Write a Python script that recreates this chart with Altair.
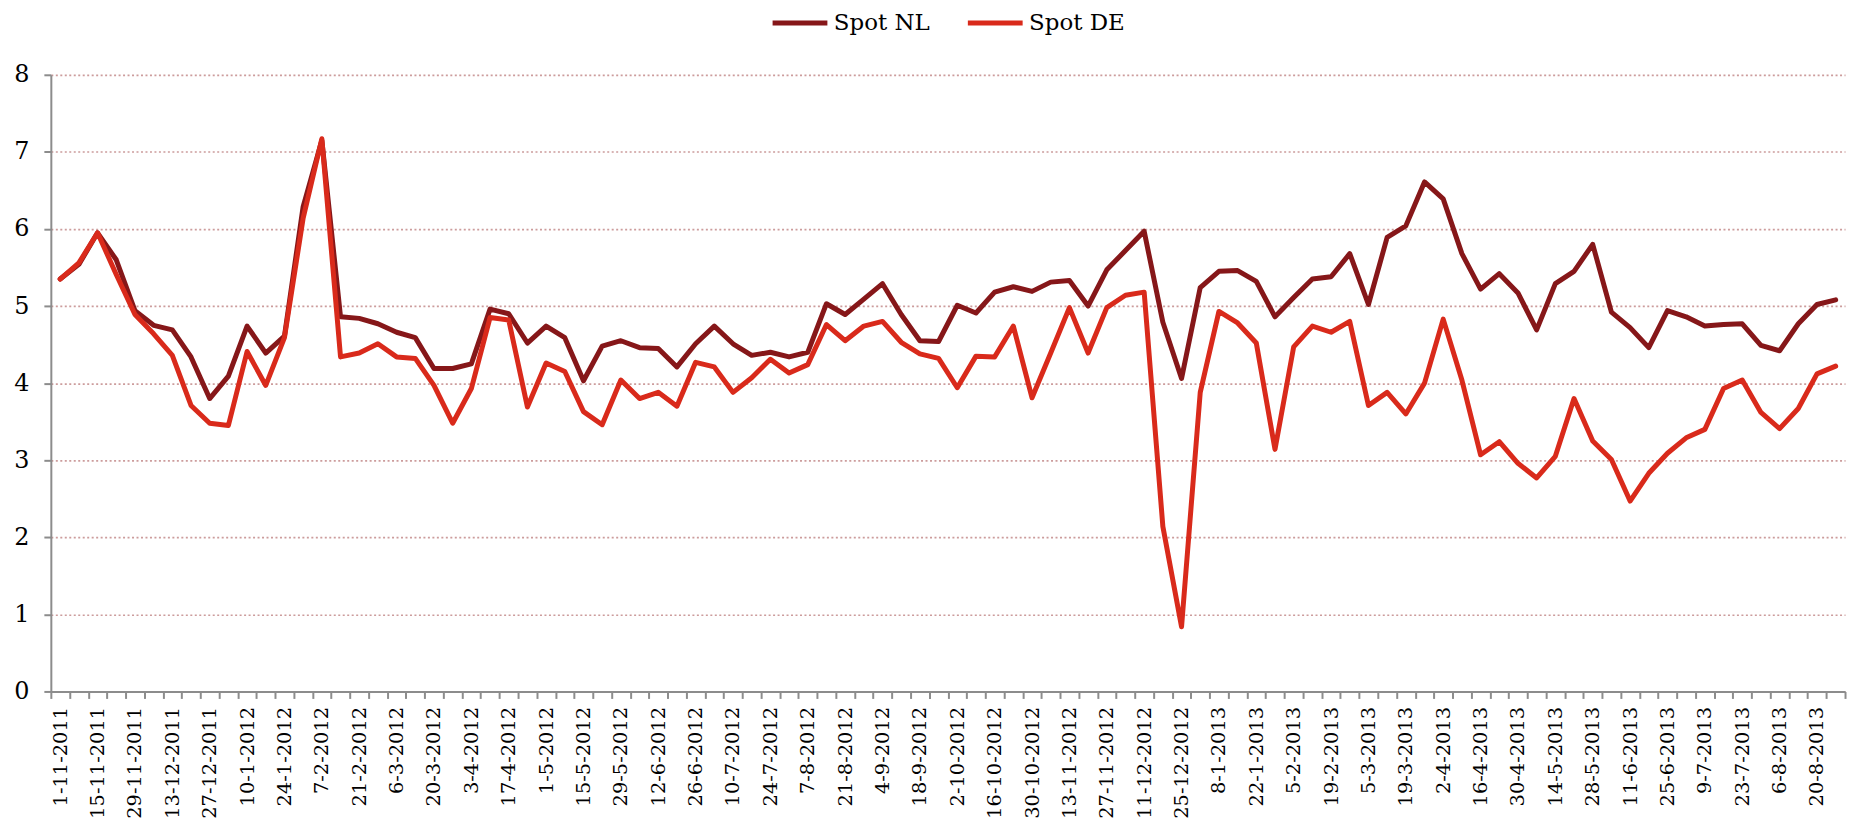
import json
import altair as alt
import pandas as pd

weeks = [
    "1-11-2011", "8-11-2011", "15-11-2011", "22-11-2011", "29-11-2011", "6-12-2011", "13-12-2011",
    "20-12-2011", "27-12-2011",
    "3-1-2012", "10-1-2012", "17-1-2012", "24-1-2012", "31-1-2012", "7-2-2012", "14-2-2012",
    "21-2-2012", "28-2-2012", "6-3-2012", "13-3-2012", "20-3-2012", "27-3-2012", "3-4-2012",
    "10-4-2012", "17-4-2012", "24-4-2012", "1-5-2012", "8-5-2012", "15-5-2012", "22-5-2012",
    "29-5-2012", "5-6-2012", "12-6-2012", "19-6-2012", "26-6-2012", "3-7-2012", "10-7-2012",
    "17-7-2012", "24-7-2012", "31-7-2012", "7-8-2012", "14-8-2012", "21-8-2012", "28-8-2012",
    "4-9-2012", "11-9-2012", "18-9-2012", "25-9-2012", "2-10-2012", "9-10-2012", "16-10-2012",
    "23-10-2012", "30-10-2012", "6-11-2012", "13-11-2012", "20-11-2012", "27-11-2012",
    "4-12-2012", "11-12-2012", "18-12-2012", "25-12-2012",
    "1-1-2013", "8-1-2013", "15-1-2013", "22-1-2013", "29-1-2013", "5-2-2013", "12-2-2013",
    "19-2-2013", "26-2-2013", "5-3-2013", "12-3-2013", "19-3-2013", "26-3-2013", "2-4-2013",
    "9-4-2013", "16-4-2013", "23-4-2013", "30-4-2013", "7-5-2013", "14-5-2013", "21-5-2013",
    "28-5-2013", "4-6-2013", "11-6-2013", "18-6-2013", "25-6-2013", "2-7-2013", "9-7-2013",
    "16-7-2013", "23-7-2013", "30-7-2013", "6-8-2013", "13-8-2013", "20-8-2013", "27-8-2013",
]

spot_nl = [
    5.35, 5.54, 5.95, 5.60, 4.94, 4.75, 4.69, 4.34, 3.80, 4.09,
    4.74, 4.39, 4.61, 6.29, 7.15, 4.86, 4.84, 4.77, 4.66, 4.59,
    4.19, 4.19, 4.25, 4.96, 4.90, 4.52, 4.74, 4.59, 4.03, 4.48,
    4.55, 4.46, 4.45, 4.21, 4.51, 4.74, 4.51, 4.36, 4.40, 4.34,
    4.40, 5.03, 4.89, 5.09, 5.29, 4.89, 4.55, 4.54, 5.01, 4.91,
    5.18, 5.25, 5.19, 5.31, 5.33, 5.00, 5.47, 5.72, 5.97, 4.79,
    4.06, 5.24, 5.45, 5.46, 5.32, 4.86, 5.11, 5.35, 5.38, 5.68,
    5.02, 5.89, 6.04, 6.61, 6.39, 5.68, 5.22, 5.42, 5.17, 4.69,
    5.29, 5.45, 5.80, 4.92, 4.72, 4.46, 4.94, 4.86, 4.74, 4.76,
    4.77, 4.49, 4.42, 4.77, 5.02, 5.08,
]

spot_de = [
    5.35, 5.56, 5.95, 5.41, 4.89, 4.64, 4.36, 3.71, 3.48, 3.45,
    4.41, 3.97, 4.59, 6.14, 7.17, 4.34, 4.39, 4.51, 4.34, 4.32,
    3.97, 3.48, 3.93, 4.85, 4.82, 3.69, 4.26, 4.15, 3.63, 3.46,
    4.04, 3.80, 3.88, 3.70, 4.27, 4.21, 3.88, 4.07, 4.31, 4.13,
    4.24, 4.76, 4.55, 4.74, 4.80, 4.53, 4.38, 4.32, 3.94, 4.35,
    4.34, 4.74, 3.81, 4.39, 4.98, 4.39, 4.98, 5.14, 5.18, 2.14,
    0.84, 3.88, 4.93, 4.78, 4.52, 3.14, 4.47, 4.74, 4.66, 4.80,
    3.71, 3.88, 3.60, 4.00, 4.83, 4.04, 3.07, 3.24, 2.96, 2.77,
    3.05, 3.80, 3.25, 3.01, 2.47, 2.83, 3.09, 3.29, 3.40, 3.93,
    4.04, 3.62, 3.41, 3.67, 4.12, 4.22,
]

series_names = ["Spot NL", "Spot DE"]
series_colors = ["#861719", "#d92a1b"]
y_ticks = [0, 1, 2, 3, 4, 5, 6, 7, 8]

rows = []
for name, vals in zip(series_names, [spot_nl, spot_de]):
    for w, v in zip(weeks, vals):
        rows.append({"week": w, "value": v, "series": name})
df = pd.DataFrame(rows)

shown_labels = weeks[::2]
label_expr = "indexof(" + json.dumps(shown_labels) + ", datum.value) >= 0 ? datum.value : ''"

FONT = "DejaVu Serif"
AXIS_GRAY = "#8c8c8c"

chart = (
    alt.Chart(df)
    .mark_line(strokeWidth=5, strokeCap="round", strokeJoin="round")
    .encode(
        x=alt.X(
            "week:N",
            sort=weeks,
            scale=alt.Scale(type="band", domain=weeks, paddingInner=0, paddingOuter=0),
            axis=alt.Axis(
                title=None,
                tickBand="extent",
                labelAngle=270,
                labelAlign="right",
                labelBaseline="middle",
                labelExpr=label_expr,
                labelOverlap=False,
                labelPadding=8,
                labelFont=FONT,
                labelFontSize=19.5,
                labelColor="#000000",
                tickSize=7,
                tickColor=AXIS_GRAY,
                tickWidth=2,
                domainColor=AXIS_GRAY,
                domainWidth=2,
                grid=False,
            ),
        ),
        y=alt.Y(
            "value:Q",
            scale=alt.Scale(domain=[0, 8], nice=False, zero=True),
            axis=alt.Axis(
                title=None,
                values=y_ticks,
                labelFont=FONT,
                labelFontSize=24,
                labelColor="#000000",
                labelPadding=15,
                tickSize=7,
                tickColor=AXIS_GRAY,
                tickWidth=2,
                domainColor=AXIS_GRAY,
                domainWidth=2,
                grid=True,
                gridColor="#cc9c9c",
                gridDash=[2, 2.5],
                gridWidth=1.7,
            ),
        ),
        color=alt.Color(
            "series:N",
            sort=series_names,
            scale=alt.Scale(domain=series_names, range=series_colors),
            legend=alt.Legend(
                title=None,
                orient="none",
                direction="horizontal",
                legendX=722,
                legendY=-82,
                symbolType="stroke",
                symbolSize=3025,
                symbolStrokeWidth=5,
                labelFont=FONT,
                labelFontSize=23,
                labelColor="#000000",
                labelOffset=4,
                columnPadding=27,
            ),
        ),
    )
    .properties(
        width=1801,
        height=619,
        autosize=alt.AutoSizeParams(type="none"),
        padding={"left": 43, "top": 65.5, "right": 5, "bottom": 127},
    )
    .configure(font=FONT)
    .configure_view(stroke=None)
)

chart.save("out.html", embed_options={"renderer": "svg", "actions": False})
